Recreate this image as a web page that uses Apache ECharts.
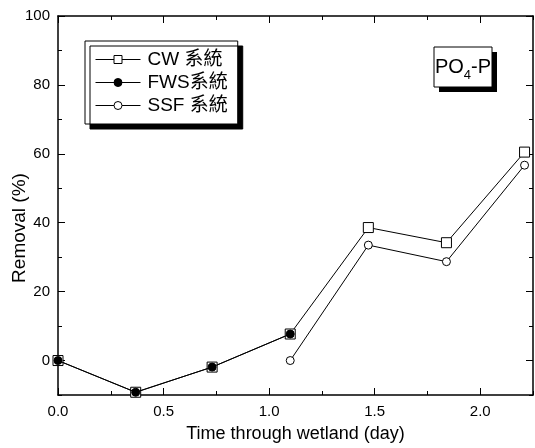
<!DOCTYPE html>
<html>
<head>
<meta charset="utf-8">
<script src="https://cdn.jsdelivr.net/npm/echarts@6/dist/echarts.min.js"></script>
<style>
  html, body { margin: 0; padding: 0; background: #fff; }
  #main { width: 535px; height: 448px; }
</style>
</head>
<body>
<div id="main"></div>
<script>
// 数据
const cwData = [[0, 0], [0.368, -9.2], [0.73, -1.9], [1.1, 7.7], [1.47, 38.6], [1.84, 34.2], [2.21, 60.5]]
const fwsData = [[0, 0], [0.368, -9.2], [0.73, -1.9], [1.1, 7.7]]
const ssfData = [[1.1, 0], [1.47, 33.5], [1.84, 28.7], [2.21, 56.7]]
const seriesNames = ['CW 系統', 'FWS系統', 'SSF 系統']
const xMajorTicks = [0, 0.5, 1.0, 1.5, 2.0]
const yMajorTicks = [0, 20, 40, 60, 80, 100]

const FONT = '"Liberation Sans", Arial, "Noto Sans CJK TC", sans-serif'

const GRID = { left: 58, right: 2, top: 16, bottom: 51 }

let myChart = echarts.init(document.getElementById('main'))

// 次刻度轴 / 主刻度轴
const minorX = (pos) => ({
    type: 'value', position: pos, min: 0, max: 2.25, interval: 0.25,
    axisLine: { show: true, onZero: false, lineStyle: { color: '#000', width: 1.5 } },
    axisTick: { show: true, inside: true, length: 4, lineStyle: { color: '#000' } },
    axisLabel: { show: false },
    splitLine: { show: false }
})
const majorX = (pos, showLabel) => ({
    type: 'value', position: pos, min: 0, max: 2.25,
    axisLine: { show: false, onZero: false },
    axisTick: { show: true, inside: true, length: 7, customValues: xMajorTicks, lineStyle: { color: '#000' } },
    axisLabel: {
        show: showLabel, customValues: xMajorTicks, margin: 9,
        color: '#000', fontSize: 15, fontFamily: FONT,
        formatter: v => v.toFixed(1)
    },
    splitLine: { show: false },
    name: showLabel ? 'Time through wetland (day)' : '',
    nameLocation: 'middle', nameGap: 30,
    nameTextStyle: { color: '#000', fontSize: 18, fontFamily: FONT }
})
const minorY = (pos) => ({
    type: 'value', position: pos, min: -10, max: 100, interval: 10,
    axisLine: { show: true, onZero: false, lineStyle: { color: '#000', width: 1.5 } },
    axisTick: { show: true, inside: true, length: 4, lineStyle: { color: '#000' } },
    axisLabel: { show: false },
    splitLine: { show: false }
})
const majorY = (pos, showLabel) => ({
    type: 'value', position: pos, min: -10, max: 100,
    axisLine: { show: false, onZero: false },
    axisTick: { show: true, inside: true, length: 7, customValues: yMajorTicks, lineStyle: { color: '#000' } },
    axisLabel: {
        show: showLabel, customValues: yMajorTicks, margin: 8,
        color: '#000', fontSize: 15, fontFamily: FONT
    },
    splitLine: { show: false }
})

let option = {
    animation: false,
    backgroundColor: '#fff',
    grid: GRID,
    legend: {
        orient: 'vertical',
        left: 85, top: 41,
        padding: [9, 10, 9, 10],
        itemGap: 4,
        itemWidth: 45, itemHeight: 10,
        backgroundColor: '#fff',
        borderColor: '#000', borderWidth: 1,
        shadowColor: '#000', shadowBlur: 0, shadowOffsetX: 5, shadowOffsetY: 5,
        lineStyle: { width: 1 },
        itemStyle: { borderWidth: 1 },
        textStyle: { color: '#000', fontSize: 19, lineHeight: 19, fontFamily: FONT, padding: [0, 0, 0, 2] },
        data: seriesNames
    },
    xAxis: [minorX('bottom'), majorX('bottom', true), minorX('top'), majorX('top', false)],
    yAxis: [minorY('left'), majorY('left', true), minorY('right'), majorY('right', false)],
    graphic: [
        {
            type: 'text', x: 20, y: 228, rotation: Math.PI / 2,
            style: { text: 'Removal (%)', fill: '#000', fontSize: 19, fontFamily: FONT, align: 'center', verticalAlign: 'middle' }
        },
        { type: 'rect', shape: { x: 439, y: 52, width: 58, height: 40 }, style: { fill: '#000' }, z: 10 },
        { type: 'rect', shape: { x: 434, y: 47, width: 58, height: 40 }, style: { fill: '#fff', stroke: '#000', lineWidth: 1 }, z: 11 },
        {
            type: 'text', x: 463, y: 67, z: 12,
            style: {
                text: '{m|PO}{s|4}{m|-P}',
                align: 'center', verticalAlign: 'middle',
                rich: {
                    m: { fontSize: 20, fontFamily: FONT, fill: '#000' },
                    s: { fontSize: 13, fontFamily: FONT, fill: '#000', padding: [16, 0, 0, 0] }
                }
            }
        }
    ],
    series: [
        {
            name: seriesNames[0], type: 'line', data: cwData, z: 3,
            symbol: 'rect', symbolSize: 10,
            itemStyle: { color: '#fff', borderColor: '#000', borderWidth: 1 },
            lineStyle: { color: '#000', width: 1 }
        },
        {
            name: seriesNames[1], type: 'line', data: fwsData, z: 4,
            symbol: 'circle', symbolSize: 8,
            itemStyle: { color: '#000', borderColor: '#000', borderWidth: 1 },
            lineStyle: { color: '#000', width: 1 }
        },
        {
            name: seriesNames[2], type: 'line', data: ssfData, z: 3,
            symbol: 'circle', symbolSize: 8,
            itemStyle: { color: '#fff', borderColor: '#000', borderWidth: 1 },
            lineStyle: { color: '#000', width: 1 }
        }
    ]
}

option.series.forEach(s => { s.showAllSymbol = true; s.emphasis = { disabled: true } })

myChart.setOption(option)
</script>
</body>
</html>
